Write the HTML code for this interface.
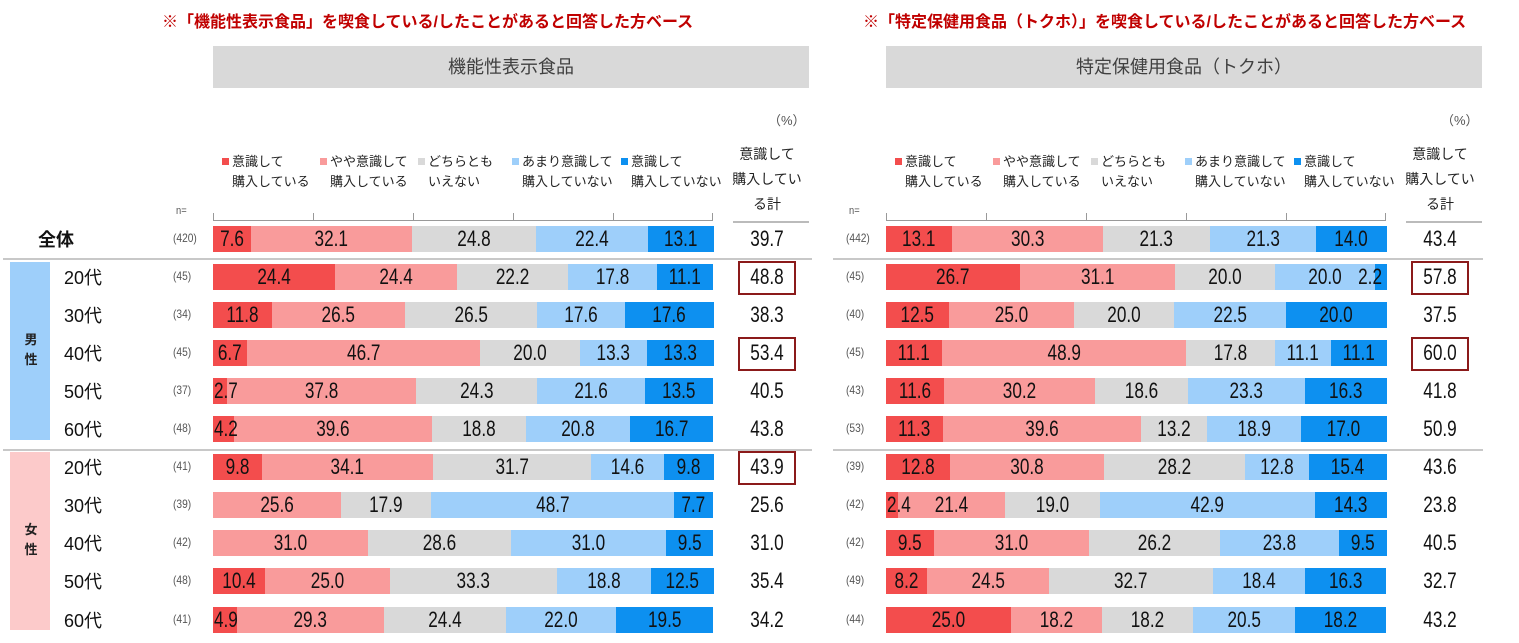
<!DOCTYPE html>
<html><head><meta charset="utf-8">
<style>
body{margin:0;background:#fff;width:1519px;height:643px;overflow:hidden;position:relative;font-family:"Liberation Sans","Noto Sans CJK JP",sans-serif;}
.abs{position:absolute;}
.title{color:#c00000;font-weight:bold;font-size:16px;white-space:nowrap;}
.hdr{background:#d9d9d9;color:#404040;font-size:18px;text-align:center;line-height:42px;}
.leg{font-size:13px;color:#222;line-height:20px;white-space:nowrap;}
.sq{display:inline-block;width:7px;height:7px;margin-right:3px;vertical-align:1px;}
.num{font-family:"Liberation Sans Narrow","Liberation Sans",sans-serif;font-size:22px;color:#111;white-space:nowrap;text-align:center;z-index:5;transform:scaleX(0.78);}
.nlab{font-family:"Liberation Sans",sans-serif;font-size:12px;color:#555;transform:scaleX(0.85);transform-origin:left center;}
.rowlab{font-size:18px;color:#111;}
</style></head><body>
<div id="root"></div>
<script>
const colors=['#f34d4d','#f99b9b','#d9d9d9','#9ecffa','#0d90f0'];
const legendLabels=[['意識して','購入している'],['やや意識して','購入している'],['どちらとも','いえない'],['あまり意識して','購入していない'],['意識して','購入していない']];
const rowLabels=['全体','20代','30代','40代','50代','60代','20代','30代','40代','50代','60代'];
const leftN=[420,45,34,45,37,48,41,39,42,48,41];
const leftVals=[[7.6,32.1,24.8,22.4,13.1],[24.4,24.4,22.2,17.8,11.1],[11.8,26.5,26.5,17.6,17.6],[6.7,46.7,20.0,13.3,13.3],[2.7,37.8,24.3,21.6,13.5],[4.2,39.6,18.8,20.8,16.7],[9.8,34.1,31.7,14.6,9.8],[0,25.6,17.9,48.7,7.7],[0,31.0,28.6,31.0,9.5],[10.4,25.0,33.3,18.8,12.5],[4.9,29.3,24.4,22.0,19.5]];
const leftTotal=['39.7','48.8','38.3','53.4','40.5','43.8','43.9','25.6','31.0','35.4','34.2'];
const leftBoxed=[1,3,6];
const rightN=[442,45,40,45,43,53,39,42,42,49,44];
const rightVals=[[13.1,30.3,21.3,21.3,14.0],[26.7,31.1,20.0,20.0,2.2],[12.5,25.0,20.0,22.5,20.0],[11.1,48.9,17.8,11.1,11.1],[11.6,30.2,18.6,23.3,16.3],[11.3,39.6,13.2,18.9,17.0],[12.8,30.8,28.2,12.8,15.4],[2.4,21.4,19.0,42.9,14.3],[9.5,31.0,26.2,23.8,9.5],[8.2,24.5,32.7,18.4,16.3],[25.0,18.2,18.2,20.5,18.2]];
const rightTotal=['43.4','57.8','37.5','60.0','41.8','50.9','43.6','23.8','40.5','32.7','43.2'];
const rightBoxed=[1,3];

const root=document.getElementById('root');
function mk(cls,style,html){const d=document.createElement('div');d.className='abs '+cls;d.style.cssText=style;if(html!==undefined)d.innerHTML=html;root.appendChild(d);return d;}
const rowY=i=>239+i*38.05;

let g=mk('','left:10px;top:262px;width:40px;height:178px;background:#9ecffa;');

g=mk('','left:10px;top:452px;width:40px;height:178px;background:#fccaca;');

g=mk('','left:22px;top:330px;width:18px;font-size:13px;font-weight:bold;line-height:20px;text-align:center;color:#222;','男<br>性');

g=mk('','left:22px;top:520px;width:18px;font-size:13px;font-weight:bold;line-height:20px;text-align:center;color:#222;','女<br>性');

rowLabels.forEach((t,i)=>{
  const l=mk('rowlab',`left:${i==0?38:64}px;top:${rowY(i)-13}px;${i==0?'font-weight:bold;':''}`,t);
  
});

function panel(x0,titleX,titleText,hdrText,nArr,vals,tots,boxed,sepX0,sepX1){
  const W=500;
  let e=mk('title',`left:${titleX}px;top:8px;`,titleText);
  
  e=mk('hdr',`left:${x0}px;top:46px;width:${596}px;height:42px;`,hdrText);
  
  e=mk('',`left:${x0+555}px;top:110px;font-size:13px;color:#555;`,'（%）');
  
  const legX=[x0+9,x0+107,x0+205,x0+299,x0+408];
  legendLabels.forEach((p,k)=>{
    const l=mk('leg',`left:${legX[k]}px;top:152px;`,`<span class="sq" style="background:${colors[k]}"></span>${p[0]}<br><span style="padding-left:10px">${p[1]}</span>`);
    
  });
  e=mk('',`left:${x0+514}px;top:142px;width:80px;font-size:14px;line-height:25px;text-align:center;color:#222;`,'意識して<br>購入してい<br>る計');
  
  e=mk('',`left:${x0+520}px;top:221px;width:76px;height:2px;background:#bbb;`);
  
  e=mk('nlab',`left:${x0-37}px;top:205px;font-size:11px;`,'n=');
  
  e=mk('',`left:${x0}px;top:220px;width:${W}px;height:1px;background:#999;`);
  
  for(let t=0;t<=100;t+=20){
    const tk=mk('',`left:${x0+t/100*W - (t==100?1:0)}px;top:213px;width:1px;height:8px;background:#999;`);
    
  }
  [258,449].forEach(y=>{const s=mk('',`left:${sepX0}px;top:${y}px;width:${sepX1-sepX0}px;height:2px;background:#c8c8c8;`);
    });
  vals.forEach((row,i)=>{
    const y=rowY(i);
    const n=mk('nlab',`left:${x0-40}px;top:${y-8}px;`,`(${nArr[i]})`);
    
    const sum=row.reduce((a,b)=>a+b,0);
    let acc=0;
    row.forEach((v,k)=>{
      const xs=x0+acc/sum*W, w=v/sum*W; acc+=v;
      if(v<=0) return;
      const b=mk('',`left:${xs}px;top:${y-13}px;width:${w+0.5}px;height:26px;background:${colors[k]};`);
      
      let st;
      if(w<28 && k==4) st=`left:${xs+w-42}px;width:38px;text-align:right;transform-origin:right center;`;
      else if(w<28) st=`left:${xs+1}px;text-align:left;transform-origin:left center;`;
      else st=`left:${xs}px;width:${w}px;`;
      const t=mk('num',st+`top:${y-12}px;line-height:24px;`,v.toFixed(1));
      
    });
    const tt=mk('num',`left:${x0+525}px;width:58px;top:${y-12}px;line-height:24px;`,tots[i]);
    
    if(boxed.includes(i)){
      const bx=mk('',`left:${x0+525}px;top:${y-16}px;width:54px;height:30px;border:2px solid #8b1a1a;`);
      
    }
  });
}
panel(213,162,'※「機能性表示食品」を喫食している/したことがあると回答した方ベース','機能性表示食品',leftN,leftVals,leftTotal,leftBoxed,3,812);
panel(886,863,'※「特定保健用食品（トクホ）」を喫食している/したことがあると回答した方ベース','特定保健用食品（トクホ）',rightN,rightVals,rightTotal,rightBoxed,833,1483);
</script>
</body></html>
